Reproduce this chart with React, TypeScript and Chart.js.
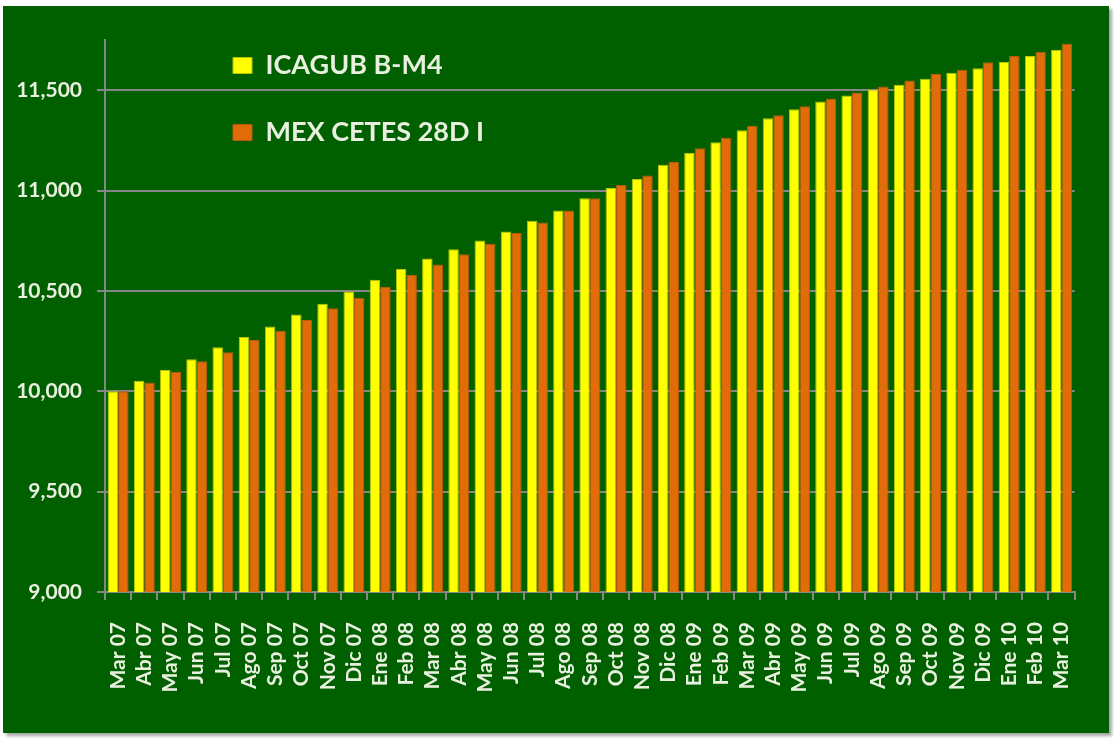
import React, { useEffect, useRef } from "react";
import { Chart, registerables } from "chart.js";

Chart.register(...registerables);

const categories = [
  "Mar 07", "Abr 07", "May 07", "Jun 07", "Jul 07", "Ago 07", "Sep 07", "Oct 07", "Nov 07", "Dic 07",
  "Ene 08", "Feb 08", "Mar 08", "Abr 08", "May 08", "Jun 08", "Jul 08", "Ago 08", "Sep 08", "Oct 08", "Nov 08", "Dic 08",
  "Ene 09", "Feb 09", "Mar 09", "Abr 09", "May 09", "Jun 09", "Jul 09", "Ago 09", "Sep 09", "Oct 09", "Nov 09", "Dic 09",
  "Ene 10", "Feb 10", "Mar 10",
];

const icagubValues = [
  10000, 10052, 10106, 10159, 10219, 10270, 10323, 10383, 10436, 10497,
  10555, 10609, 10662, 10707, 10751, 10796, 10849, 10901, 10961, 11013, 11058, 11128,
  11188, 11241, 11300, 11360, 11405, 11443, 11473, 11503, 11527, 11557, 11587, 11609,
  11640, 11670, 11701,
];

const cetesValues = [
  10000, 10044, 10097, 10150, 10195, 10255, 10301, 10355, 10413, 10466,
  10519, 10579, 10632, 10683, 10735, 10788, 10841, 10901, 10961, 11028, 11075, 11142,
  11211, 11263, 11322, 11375, 11420, 11458, 11488, 11518, 11548, 11580, 11602, 11639,
  11670, 11692, 11731,
];

const seriesNames = ["ICAGUB B-M4", "MEX CETES 28D I"];
const yTickValues = [9000, 9500, 10000, 10500, 11000, 11500];
const yMin = 9000;
const yMax = 11750;

const W = 1106;
const H = 727;
const TEXT = "#EAF0DF";
const GRID = "#868686";

export default function App() {
  const ref = useRef<HTMLCanvasElement | null>(null);

  useEffect(() => {
    if (!ref.current) return;
    const legendShift = {
      id: "legendShift",
      afterLayout(chart: any) {
        const lg = chart.legend;
        if (!lg) return;
        const dx = 88;
        const dy = 6;
        lg.left += dx;
        lg.right += dx;
        lg.top += dy;
        lg.bottom += dy;
      },
    };
    const chart = new Chart(ref.current, {
      type: "bar",
      data: {
        labels: categories,
        datasets: [
          {
            label: seriesNames[0],
            data: icagubValues,
            backgroundColor: "#FFFF00",
            borderColor: "#B4C400",
            borderWidth: 1,
            categoryPercentage: 0.8,
            barPercentage: 1.0,
          },
          {
            label: seriesNames[1],
            data: cetesValues,
            backgroundColor: "#E36C0A",
            borderColor: "#B85A0C",
            borderWidth: 1,
            categoryPercentage: 0.8,
            barPercentage: 1.0,
          },
        ],
      },
      options: {
        responsive: false,
        animation: false,
        layout: { padding: { left: 0, top: 34, right: 17, bottom: 0 } },
        plugins: {
          tooltip: { enabled: false },
          legend: {
            position: "chartArea",
            align: "start",
            labels: {
              boxWidth: 19,
              boxHeight: 16,
              padding: 40,
              color: TEXT,
              font: { family: "Lato", weight: "bold", size: 27 },
            },
          },
        },
        scales: {
          x: {
            grid: {
              display: true,
              drawOnChartArea: false,
              offset: true,
              tickLength: 8,
              color: GRID,
              lineWidth: 2,
            },
            border: { display: true, color: GRID, width: 2 },
            ticks: {
              color: TEXT,
              font: { family: "Lato", weight: "bold", size: 21 },
              minRotation: 90,
              maxRotation: 90,
              autoSkip: false,
              padding: 22,
            },
            afterFit(scale: any) {
              scale.height = 141;
            },
          },
          y: {
            min: yMin,
            max: yMax,
            grid: {
              color: GRID,
              lineWidth: 2,
              tickLength: 8,
            },
            border: { display: true, color: GRID, width: 2 },
            ticks: {
              color: TEXT,
              padding: 15,
              autoSkip: false,
              font: { family: "Lato", weight: "bold", size: 21 },
              callback: (v: any) => Number(v).toLocaleString("en-US"),
            },
            afterBuildTicks(scale: any) {
              scale.ticks = yTickValues.map((v) => ({ value: v }));
            },
            afterFit(scale: any) {
              scale.width = 102;
            },
          },
        },
      } as any,
      plugins: [legendShift],
    });
    return () => chart.destroy();
  }, []);

  return (
    <div
      style={{
        position: "absolute",
        left: 3,
        top: 6,
        width: W,
        height: H,
        background: "#006000",
        boxShadow: "3px 3px 3px rgba(0,0,0,0.35)",
      }}
    >
      <canvas ref={ref} width={W} height={H} style={{ display: "block" }} />
    </div>
  );
}
